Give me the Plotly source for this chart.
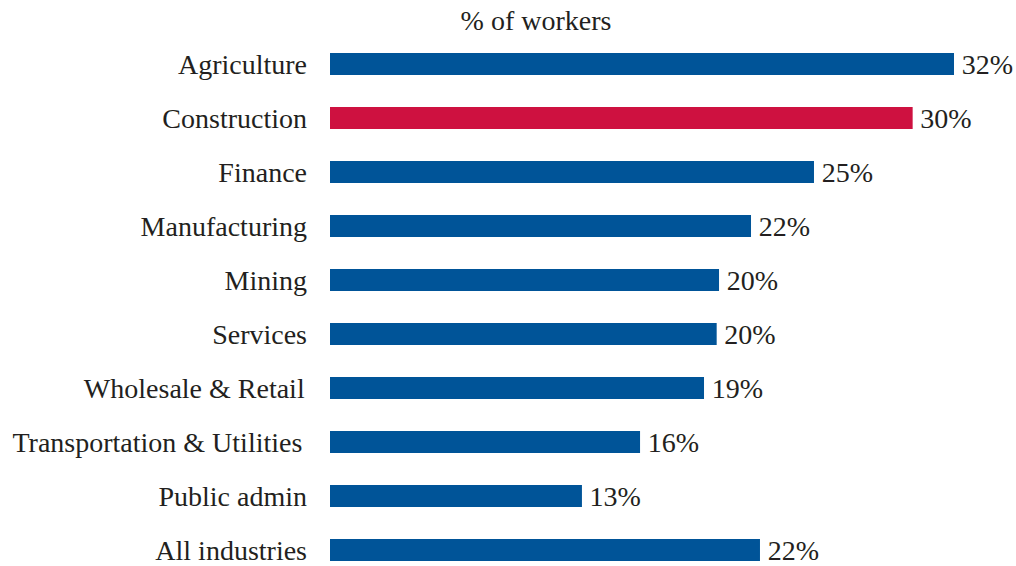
import plotly.graph_objects as go

categories = ["Agriculture", "Construction", "Finance", "Manufacturing", "Mining",
              "Services", "Wholesale & Retail", "Transportation & Utilities",
              "Public admin", "All industries"]
values = [32.0, 29.88, 24.82, 21.59, 19.95, 19.83, 19.18, 15.90, 12.92, 22.05]
highlight = "Construction"

BLUE = "#005498"
RED = "#CE1140"
colors = [RED if c == highlight else BLUE for c in categories]
FONT = "Liberation Serif, Times New Roman, serif"
FS = 28

# small trailing pads reproduce the slight right-edge offsets of two labels
pads = {"Wholesale & Retail": "\u200a", "Transportation & Utilities": "\u2006"}
ticktext = [c + pads.get(c, "") for c in categories]

fig = go.Figure(go.Bar(
    x=values, y=categories, orientation="h",
    marker=dict(color=colors, line=dict(width=0)),
    texttemplate="\u2006%{x:.0f}%", textposition="outside",
    textfont=dict(family=FONT, size=FS, color="#231f20"),
    cliponaxis=False, constraintext="none",
    hoverinfo="skip",
))

fig.update_layout(
    width=1016, height=566,
    margin=dict(l=330, r=10, t=37, b=0),
    paper_bgcolor="white", plot_bgcolor="white",
    bargap=0.593,
    showlegend=False,
    font=dict(family=FONT, size=FS, color="#231f20"),
    title=dict(text="% of workers", x=536/1016, xref="container", xanchor="center",
               y=1 - 20/566, yref="container", yanchor="middle",
               font=dict(family=FONT, size=FS, color="#231f20")),
)
fig.update_xaxes(range=[0, 676/19.5], visible=False, showgrid=False, zeroline=False)
fig.update_yaxes(range=[9.296, -0.5], showgrid=False, zeroline=False, showline=False,
                 ticks="", ticklabelstandoff=22,
                 tickmode="array", tickvals=categories, ticktext=ticktext,
                 tickfont=dict(family=FONT, size=FS, color="#231f20"))

fig.write_html("out.html",
               config={"displayModeBar": False, "staticPlot": True},
               post_script="document.body.style.margin='0';document.body.style.overflow='hidden';")
